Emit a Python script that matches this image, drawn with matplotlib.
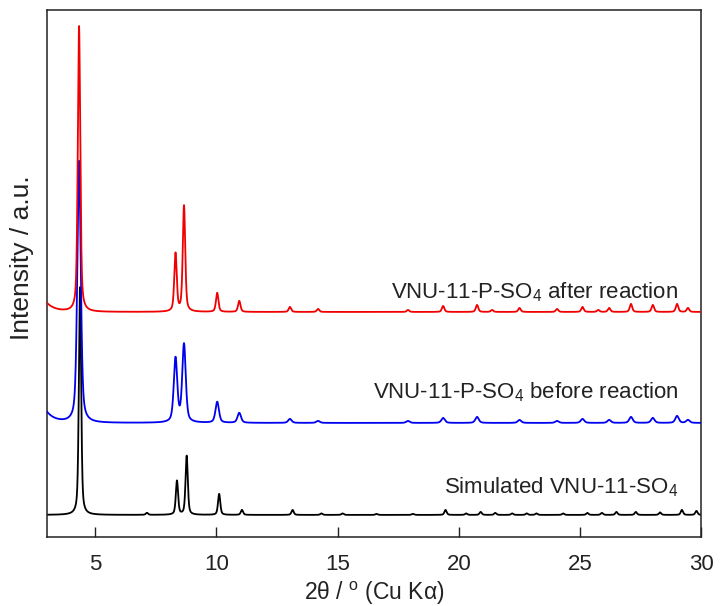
import numpy as np
import matplotlib
matplotlib.use("Agg")
from matplotlib import pyplot as plt

plt.rcParams['font.family'] = ['Liberation Sans', 'DejaVu Sans']
plt.rcParams['mathtext.fontset'] = 'custom'
plt.rcParams['mathtext.rm'] = 'Liberation Sans'
plt.rcParams['mathtext.it'] = 'Liberation Sans:italic'

# peak lists: position (2theta), height above baseline
sim_pos = [4.37, 7.13, 8.37, 8.77, 10.11, 11.05, 13.14, 14.33, 15.2, 16.6, 18.1, 19.45,
           20.3, 20.9, 21.5, 22.2, 22.8, 23.2, 24.3, 25.3, 25.9, 26.5, 27.3, 28.3, 29.2, 29.8]
sim_h = [228, 2, 34, 59, 21, 5, 5, 1.5, 1.5, 1, 1, 5,
         1.5, 3, 2, 1.5, 1.5, 1.5, 1.5, 2, 2, 3, 3, 2.5, 5, 4]

before_pos = [4.33, 8.31, 8.66, 10.03, 10.94, 13.03, 14.19, 17.9, 19.35, 20.75, 22.5,
              24.05, 25.1, 26.2, 27.1, 28.0, 29.0, 29.45]
before_h = [262, 64, 78, 21, 10, 4, 2, 2, 5, 6, 3, 2, 4, 3, 6, 5, 7, 3]

after_pos = [4.33, 8.31, 8.66, 10.03, 10.94, 13.03, 14.19, 17.9, 19.35, 20.75, 21.37, 22.5,
             24.05, 25.1, 25.75, 26.2, 27.1, 28.0, 29.0, 29.45]
after_h = [286, 58, 106, 19, 11, 5, 3, 2, 6, 7, 2, 4, 3, 5, 2, 4, 8, 7, 8, 4]

# baselines (offsets), low-angle background, peak widths
baselines = {'sim': 22, 'before': 114, 'after': 225}
low_angle = {'sim': 0, 'before': 11, 'after': 9}
widths = {'sim': 0.11, 'before': 0.17, 'after': 0.12}

labels = ['Simulated VNU-11-SO$_4$', 'VNU-11-P-SO$_4$ before reaction',
          'VNU-11-P-SO$_4$ after reaction']
label_y = [44, 139, 239]

x = np.linspace(3, 30, 6001)


def pattern(pos, h, w, base, bg):
    y = np.full_like(x, float(base)) + bg * np.exp(-(x - 3) / 0.35)
    for c, a in zip(pos, h):
        d = (x - c) / (w / 2)
        y += a * (0.5 / (1 + d ** 2) + 0.5 * np.exp(-np.log(2) * d ** 2))
    return y


fig = plt.figure(figsize=(7.2, 6.06), dpi=100)
ax = fig.add_axes([0.065, 0.114, 0.909, 0.8695])

ax.plot(x, pattern(sim_pos, sim_h, widths['sim'], baselines['sim'], low_angle['sim']),
        color='black', lw=1.3, zorder=2)
ax.plot(x, pattern(before_pos, before_h, widths['before'], baselines['before'], low_angle['before']),
        color='#0000f0', lw=1.3, zorder=3)
ax.plot(x, pattern(after_pos, after_h, widths['after'], baselines['after'], low_angle['after']),
        color='#f00000', lw=1.3, zorder=4)

for t, yy in zip(labels, label_y):
    ax.text(29.05, yy, t, ha='right', va='baseline', fontsize=16, color='#222222')

ax.set_xlim(3, 30)
ax.set_ylim(0, 527)
ax.set_xticks([5, 10, 15, 20, 25, 30])
ax.set_yticks([])
ax.tick_params(axis='x', direction='in', length=7, width=1, labelsize=16, pad=12, colors='#222222')
for s in ax.spines.values():
    s.set_linewidth(1.1)
    s.set_color('#222222')
ax.set_xlabel('2θ / $^{\\mathrm{o}}$ (Cu Kα)', fontsize=16.5, color='#222222', labelpad=4)
ax.set_ylabel('Intensity / a.u.', fontsize=19, color='#222222')
ax.yaxis.set_label_coords(-0.020, 0.53)

fig.savefig('out.png', dpi=100)
